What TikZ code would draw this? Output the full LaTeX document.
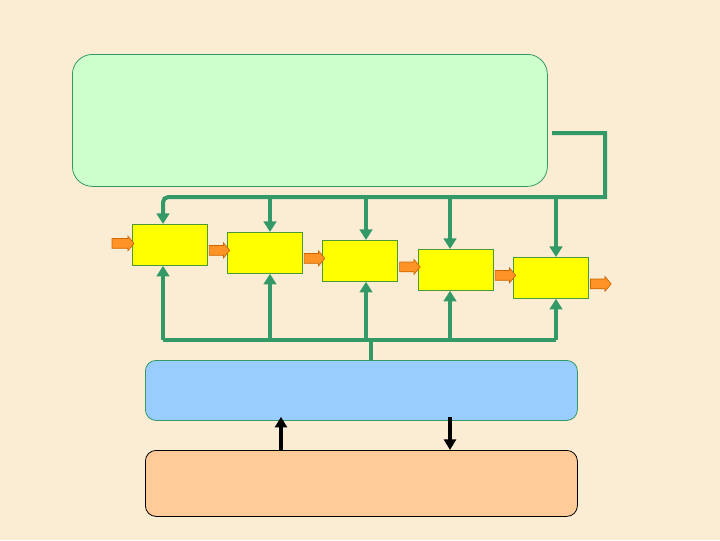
\documentclass[tikz,border=0pt]{standalone}
\usetikzlibrary{arrows.meta,shapes.arrows,calc}
\definecolor{bgcol}{HTML}{FBEDD4}
\definecolor{ctlfill}{HTML}{CCFFCC}
\definecolor{gline}{HTML}{339966}
\definecolor{ybox}{HTML}{FFFF00}
\definecolor{yborder}{HTML}{4D9933}
\definecolor{oarr}{HTML}{FF9326}
\definecolor{oarrb}{HTML}{CC6600}
\definecolor{bluefill}{HTML}{99CCFF}
\definecolor{peach}{HTML}{FFCC99}
\tikzset{
  stagebox/.style={draw=yborder, fill=ybox, line width=0.6pt, minimum width=56.25pt, minimum height=30.75pt, inner sep=0pt, anchor=north west},
  bus/.style={draw=gline, line width=3pt},
  busarrow/.style={bus, -{Triangle[width=9.5pt,length=8pt]}},
  flowarrow/.style={single arrow, draw=oarrb, fill=oarr, line width=0.5pt, minimum height=15.5pt, inner xsep=0pt, inner ysep=3.4pt, single arrow head extend=1.9pt, single arrow tip angle=100},
  blackarrow/.style={draw=black, line width=2.4pt, -{Triangle[width=9pt,length=8pt]}}
}
\begin{document}
\begin{tikzpicture}[x=0.75pt,y=-0.75pt]
\fill[bgcol] (0,0) rectangle (720,540);
\useasboundingbox (0,0) rectangle (720,540);
% control box
\node[draw=gline, fill=ctlfill, line width=0.6pt, rounded corners=15pt, minimum width=356.25pt, minimum height=99pt, anchor=north west, inner sep=0pt] (ctl) at (72,54) {};
% blue box
\node[draw=gline, fill=bluefill, line width=0.6pt, rounded corners=8pt, minimum width=324pt, minimum height=45pt, anchor=north west, inner sep=0pt] (blue) at (145,360) {};
% peach box
\node[draw=black, fill=peach, line width=0.6pt, rounded corners=8pt, minimum width=324pt, minimum height=49.5pt, anchor=north west, inner sep=0pt] (peach) at (145,450) {};
% stages
\node[stagebox] (b1) at (132,224) {};
\node[stagebox] (b2) at (227,232) {};
\node[stagebox] (b3) at (322,240) {};
\node[stagebox] (b4) at (418,249) {};
\node[stagebox] (b5) at (513,257) {};
% coordinates
\coordinate (tb) at (0,197);
\coordinate (bb) at (0,340);
\coordinate (x1) at (163,0);
\coordinate (x2) at (270,0);
\coordinate (x3) at (366,0);
\coordinate (x4) at (450,0);
\coordinate (x5) at (556,0);
\coordinate (xm) at (371,0);
\coordinate (bs) at (552,133);
\coordinate (xa) at (281,0);
\coordinate (xb) at (450,0);
% top bus
\draw[busarrow] (bs) -- (605,133) -- (605,197) [rounded corners=4pt] -- (x1 |- tb) -- (b1.north -| x1);
\draw[busarrow] (x2 |- tb) -- (b2.north -| x2);
\draw[busarrow] (x3 |- tb) -- (b3.north -| x3);
\draw[busarrow] (x4 |- tb) -- (b4.north -| x4);
\draw[busarrow] (x5 |- tb) -- (b5.north -| x5);
% bottom bus
\draw[bus, rounded corners=3pt] (x1 |- bb) -- (x5 |- bb);
\draw[busarrow] (x1 |- bb) -- (b1.south -| x1);
\draw[busarrow] (x2 |- bb) -- (b2.south -| x2);
\draw[busarrow] (x3 |- bb) -- (b3.south -| x3);
\draw[busarrow] (x4 |- bb) -- (b4.south -| x4);
\draw[busarrow] (x5 |- bb) -- (b5.south -| x5);
\draw[bus] (xm |- bb) -- (blue.north -| xm);
% flow arrows
\node[flowarrow, minimum height=16.5pt] (in) at ($(b1.west)+(-11,-1.5)$) {};
\node[flowarrow] (a12) at ($(b1.east)!0.5!(b2.west)+(0,1.5)$) {};
\node[flowarrow] (a23) at ($(b2.east)!0.5!(b3.west)+(0,1.5)$) {};
\node[flowarrow] (a34) at ($(b3.east)!0.5!(b4.west)+(0,1.5)$) {};
\node[flowarrow] (a45) at ($(b4.east)!0.5!(b5.west)+(0,1.5)$) {};
\node[flowarrow] (out) at ($(b5.east)+(10,6)$) {};
% black arrows
\draw[blackarrow, shorten >=-3pt] (peach.north -| xa) -- (blue.south -| xa);
\draw[blackarrow, shorten <=-3pt] (blue.south -| xb) -- (peach.north -| xb);
\end{tikzpicture}
\end{document}
